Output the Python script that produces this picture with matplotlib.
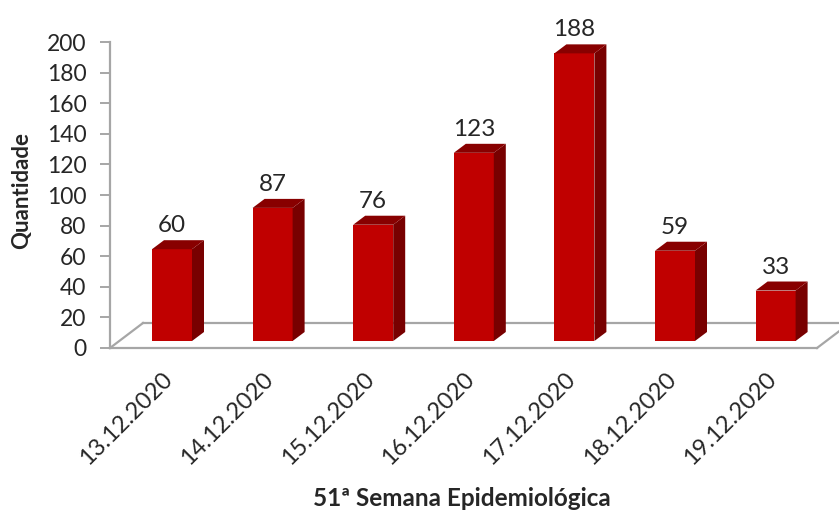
import matplotlib
matplotlib.use("Agg")
import matplotlib.pyplot as plt
from matplotlib.patches import Polygon
from matplotlib.lines import Line2D
from matplotlib.transforms import ScaledTranslation, IdentityTransform
import numpy as np

categories = ["13.12.2020", "14.12.2020", "15.12.2020", "16.12.2020",
              "17.12.2020", "18.12.2020", "19.12.2020"]
values = [60, 87, 76, 123, 188, 59, 33]
yticks = [0, 20, 40, 60, 80, 100, 120, 140, 160, 180, 200]

W, H = 839, 513
DPI = 100
fig = plt.figure(figsize=(W / DPI, H / DPI), dpi=DPI)
plt.rcParams['font.family'] = ['Lato', 'DejaVu Sans']

# axes placement in pixels
ax_left, ax_right, ax_top, ax_bottom = 110, 817, 42, 348
ax = fig.add_axes([ax_left / W, (H - ax_bottom) / H,
                   (ax_right - ax_left) / W, (ax_bottom - ax_top) / H])
ax.set_facecolor('none')
ax.set_ylim(0, 200)
x = np.arange(len(values))
spacing_px = 100.6
first_center_px = 172
xmin = (ax_left - first_center_px) / spacing_px
xmax = (ax_right - first_center_px) / spacing_px
ax.set_xlim(xmin, xmax)

front = '#C00000'
side = '#780000'
topc = '#880000'
grey = '#A6A6A6'
txt = '#262626'

# 3D offsets in pixels
bar_shift_y = 7
depth_dx, depth_dy = 12, 9
floor_dx, floor_dy = 33, 25
bw = 40 / spacing_px

shift = ax.transData + ScaledTranslation(0, bar_shift_y / DPI, fig.dpi_scale_trans)

# floor (drawn below the bars)
floor_back = ax.transData + ScaledTranslation(floor_dx / DPI, floor_dy / DPI, fig.dpi_scale_trans)
p0 = ax.transData.transform((xmin, 0))
p1 = ax.transData.transform((xmax, 0))
b0 = floor_back.transform((xmin, 0))
b1 = floor_back.transform((xmax, 0))
for a, b in [(p0, p1), (b0, b1), (p0, b0), (p1, b1)]:
    ax.add_line(Line2D([a[0], b[0]], [a[1], b[1]], transform=IdentityTransform(),
                       color=grey, lw=1.6, zorder=1, clip_on=False))

# bars
ax.bar(x, values, width=bw, color=front, transform=shift, zorder=3, clip_on=False)
for xi, v in zip(x, values):
    xl, xr = xi - bw / 2, xi + bw / 2
    fl = shift.transform((xl, v))
    fr = shift.transform((xr, v))
    br = shift.transform((xr, 0))
    d = np.array([depth_dx, depth_dy])
    side_poly = [br, fr, fr + d, br + d]
    top_poly = [fl, fr, fr + d, fl + d]
    ax.add_patch(Polygon(side_poly, closed=True, facecolor=side, edgecolor='none',
                         transform=IdentityTransform(), zorder=3, clip_on=False))
    ax.add_patch(Polygon(top_poly, closed=True, facecolor=topc, edgecolor='none',
                         transform=IdentityTransform(), zorder=3, clip_on=False))
    ax.annotate(str(v), xy=(xi, v), xycoords=shift,
                xytext=(0, 4 + depth_dy), textcoords='offset pixels',
                ha='center', va='bottom', fontsize=17.5, color=txt)

# spines / ticks
for s in ['top', 'right', 'bottom']:
    ax.spines[s].set_visible(False)
ax.spines['left'].set_color(grey)
ax.spines['left'].set_linewidth(1.6)
ax.set_yticks(yticks)
ax.tick_params(axis='y', colors=grey, length=7, width=1.4, labelsize=16.5,
               labelcolor=txt, pad=10)
ax.set_xticks(x)
ax.set_xticklabels(categories, rotation=45, ha='right', rotation_mode='anchor',
                   fontsize=17, color=txt)
ax.tick_params(axis='x', length=0, pad=15)
for lab in ax.get_xticklabels():
    lab.set_transform(lab.get_transform() + ScaledTranslation(-10 / DPI, 0, fig.dpi_scale_trans))

fig.text(22 / W, 1 - 191 / H, 'Quantidade', rotation=90, ha='center', va='center',
         fontsize=16, fontweight='bold', color=txt)
fig.text(462 / W, 1 - 498 / H, '51ª Semana Epidemiológica', ha='center', va='center',
         fontsize=17.5, fontweight='bold', color=txt)

fig.savefig('out.png', dpi=DPI)
